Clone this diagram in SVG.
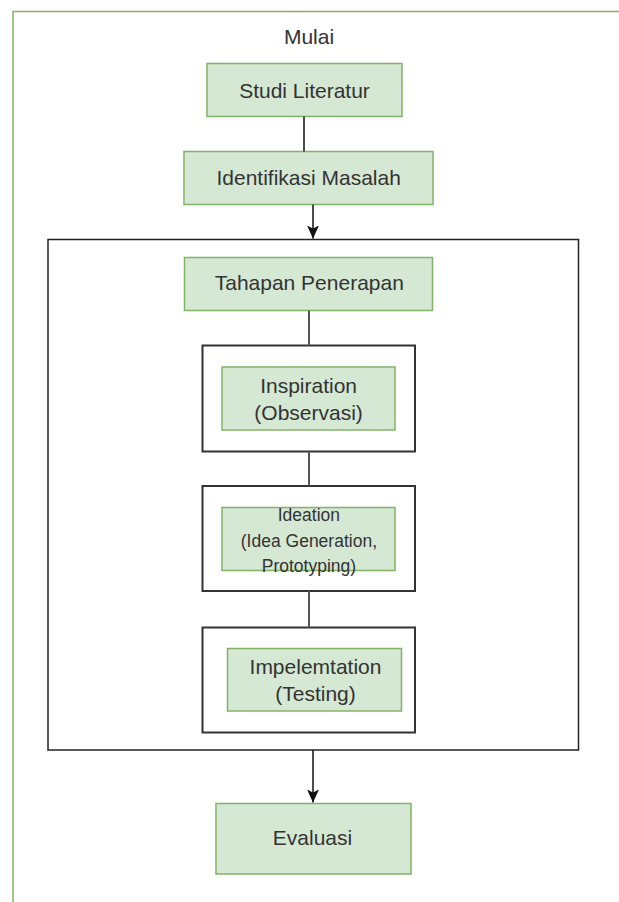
<svg xmlns="http://www.w3.org/2000/svg" width="619" height="902" viewBox="0 0 619 902">
<style>
  .g { fill: #d5e8d4; stroke: #82b366; stroke-width: 1.5; }
  .w { fill: #ffffff; stroke: #333333; stroke-width: 2; }
  .t { font-family: "Liberation Sans", Arial, sans-serif; font-size: 21px; fill: #333333; text-anchor: middle; }
  .ts { font-family: "Liberation Sans", Arial, sans-serif; font-size: 17.5px; fill: #333333; text-anchor: middle; }
  .c { fill: none; stroke: #111111; stroke-width: 1.5; }
  .ci { fill: none; stroke: #555555; stroke-width: 2; }
</style>
<defs>
  <marker id="arr" viewBox="0 0 13 12" refX="13" refY="6" markerWidth="13" markerHeight="12" markerUnits="userSpaceOnUse" orient="auto">
    <path d="M0,0 L13,6 L0,12 L3,6 Z" fill="#111111"/>
  </marker>
</defs>
<rect width="619" height="902" fill="#ffffff"/>
<g id="frame">
  <path d="M13,902 L13,11.5 L619,11.5" fill="none" stroke="#82b366" stroke-width="1.5"/>
</g>
<g id="mulai">
  <text class="t" x="309" y="43.5">Mulai</text>
</g>
<g id="studi-literatur">
  <rect class="g" x="207" y="63.5" width="195" height="53"/>
  <text class="t" x="304.5" y="97.5">Studi Literatur</text>
</g>
<g id="identifikasi-masalah">
  <rect class="g" x="184" y="151.5" width="249" height="53"/>
  <text class="t" x="308.7" y="184.5">Identifikasi Masalah</text>
</g>
<g id="container">
  <rect x="48" y="239.5" width="530.5" height="510.5" fill="#ffffff" stroke="#222222" stroke-width="1.5"/>
</g>
<g id="tahapan-penerapan">
  <rect class="g" x="184.5" y="257.5" width="248" height="53"/>
  <text class="t" x="309.3" y="290">Tahapan Penerapan</text>
</g>
<g id="inspiration">
  <rect class="w" x="202.5" y="345.5" width="212.5" height="106"/>
  <rect class="g" x="222" y="367" width="173" height="63"/>
  <text class="t" x="308.6" y="392.5">Inspiration</text>
  <text class="t" x="308.6" y="419.5">(Observasi)</text>
</g>
<g id="ideation">
  <rect class="w" x="202.5" y="486" width="212.5" height="105"/>
  <rect class="g" x="222" y="507.5" width="173" height="63"/>
  <text class="ts" x="308.9" y="520.5">Ideation</text>
  <text class="ts" x="308.9" y="546.5">(Idea Generation,</text>
  <text class="ts" x="308.9" y="572">Prototyping)</text>
</g>
<g id="implementation">
  <rect class="w" x="202.5" y="627.5" width="212.5" height="105"/>
  <rect class="g" x="227.5" y="648.5" width="174" height="62.5"/>
  <text class="t" x="315.5" y="674.3">Impelemtation</text>
  <text class="t" x="315.5" y="700.5">(Testing)</text>
</g>
<g id="evaluasi">
  <rect class="g" x="216" y="803.5" width="195" height="70.5"/>
  <text class="t" x="312.5" y="845">Evaluasi</text>
</g>
<g id="connectors">
  <line class="c" x1="304" y1="116.5" x2="304" y2="151.5"/>
  <line class="c" x1="313" y1="204.5" x2="313" y2="238.5" marker-end="url(#arr)"/>
  <line class="ci" x1="309" y1="310.5" x2="309" y2="345.5" stroke="#777777"/>
  <line class="ci" x1="309" y1="451.5" x2="309" y2="486" stroke="#333333"/>
  <line class="ci" x1="309" y1="591" x2="309" y2="627.5" stroke="#777777"/>
  <line class="c" x1="313" y1="750" x2="313" y2="802.5" marker-end="url(#arr)"/>
</g>
</svg>
